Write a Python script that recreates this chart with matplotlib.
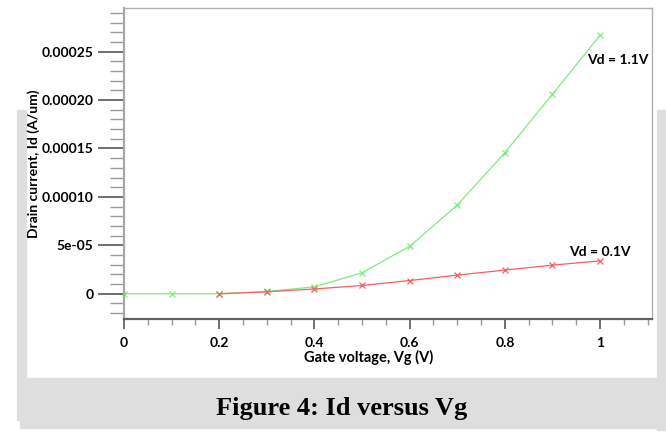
import matplotlib
matplotlib.use("Agg")
import matplotlib.pyplot as plt
from matplotlib.patches import Rectangle
from matplotlib.ticker import MultipleLocator

# Id-Vg data
vg_high = [0.0, 0.1, 0.2, 0.3, 0.4, 0.5, 0.6, 0.7, 0.8, 0.9, 1.0]
id_high = [0.0, 0.0, 0.0, 2.4e-6, 7.2e-6, 2.17e-5, 4.9e-5, 9.16e-5, 1.457e-4, 2.06e-4, 2.67e-4]

vg_low = [0.2, 0.3, 0.4, 0.5, 0.6, 0.7, 0.8, 0.9, 1.0]
id_low = [0.0, 2.0e-6, 5.0e-6, 8.6e-6, 1.37e-5, 1.93e-5, 2.45e-5, 2.96e-5, 3.4e-5]

y_ticks = [0, 5e-05, 0.0001, 0.00015, 0.0002, 0.00025]
y_tick_labels = ["0", "5e-05", "0.00010", "0.00015", "0.00020", "0.00025"]
x_ticks = [0, 0.2, 0.4, 0.6, 0.8, 1.0]
x_tick_labels = ["0", "0.2", "0.4", "0.6", "0.8", "1"]

SANS = ["Lato", "DejaVu Sans"]

fig = plt.figure(figsize=(6.66, 4.47), dpi=100)

# faint scanned-page background shapes
bg = "#dedede"
fig.patches.append(Rectangle((20 / 666, 1 - 428 / 447), 640 / 666, 50 / 447,
                             transform=fig.transFigure, color=bg, zorder=0))
fig.patches.append(Rectangle((17 / 666, 1 - 420 / 447), 9 / 666, 310 / 447,
                             transform=fig.transFigure, color=bg, zorder=0))
fig.patches.append(Rectangle((657 / 666, 1 - 430 / 447), 9 / 666, 320 / 447,
                             transform=fig.transFigure, color=bg, zorder=0))

ax = fig.add_axes([124 / 666, 1 - 319 / 447, 528 / 666, 311 / 447])
ax.set_zorder(2)

ax.plot(vg_high, id_high, color="#80ea80", lw=0.9, marker="x", ms=4.5, mew=0.9)
ax.plot(vg_low, id_low, color="#f26161", lw=0.9, marker="x", ms=4.5, mew=0.9)

ax.set_xlim(0, 1.109)
ax.set_ylim(-2.6e-5, 0.000295)

ax.set_xticks(x_ticks)
ax.set_xticklabels(x_tick_labels)
ax.xaxis.set_minor_locator(MultipleLocator(0.05))
ax.set_yticks(y_ticks)
ax.set_yticklabels(y_tick_labels)
ax.yaxis.set_minor_locator(MultipleLocator(1e-5))

for lab in ax.get_xticklabels() + ax.get_yticklabels():
    lab.set_fontfamily(SANS)
    lab.set_fontweight("bold")
    lab.set_fontsize(10)

ax.tick_params(axis="y", which="major", length=19, width=1.2, color="#555555", pad=3)
ax.tick_params(axis="y", which="minor", length=10, width=1.0, color="#999999")
ax.tick_params(axis="x", which="major", length=7, width=1.2, color="#555555", pad=6)
ax.tick_params(axis="x", which="minor", length=4, width=1.0, color="#999999")

for side in ["top", "right"]:
    ax.spines[side].set_color("#b0b0b0")
    ax.spines[side].set_linewidth(1.0)
ax.spines["left"].set_color("#a8a8a8")
ax.spines["left"].set_linewidth(1.6)
ax.spines["bottom"].set_color("#606060")
ax.spines["bottom"].set_linewidth(1.6)

ax.set_ylabel("Drain current, Id (A/um)", fontsize=10, fontweight="bold", family=SANS)
ax.yaxis.set_label_coords(-0.16, 0.50)
ax.set_xlabel("Gate voltage, Vg (V)", fontsize=10.5, fontweight="bold", family=SANS)
ax.xaxis.set_label_coords(0.464, -0.10)

ax.text(1.038, 0.0002417, "Vd = 1.1V", fontsize=10, fontweight="bold", family=SANS,
        ha="center", va="center")
ax.text(1.0, 4.34e-5, "Vd = 0.1V", fontsize=10, fontweight="bold", family=SANS,
        ha="center", va="center")

fig.text(342 / 666, 1 - 408 / 447, "Figure 4: Id versus Vg", family="Liberation Serif",
         fontweight="bold", fontsize=19, ha="center", va="center")

fig.savefig("out.png", dpi=100)
